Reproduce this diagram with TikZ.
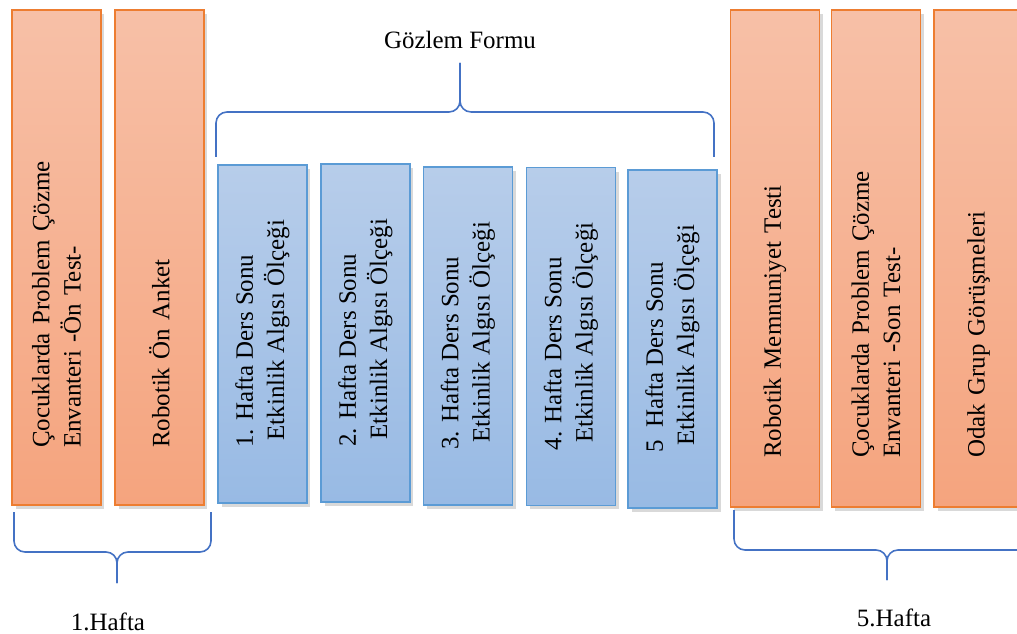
\documentclass[tikz,border=0pt]{standalone}
\usepackage{fontspec}
\setmainfont{Liberation Serif}
\usetikzlibrary{shadows}

\definecolor{orangetop}{RGB}{247,192,167}
\definecolor{orangebot}{RGB}{245,164,126}
\definecolor{orangeline}{RGB}{237,125,49}
\definecolor{bluetop}{RGB}{183,205,234}
\definecolor{bluebot}{RGB}{152,186,228}
\definecolor{blueline}{RGB}{91,155,213}
\definecolor{bracecol}{RGB}{68,114,196}

\tikzset{
	txt/.style={font=\fontsize{14.2}{17.8}\selectfont},
	testbox/.style={txt, rotate=90, draw=orangeline, line width=0.9pt, top color=orangetop, bottom color=orangebot, shading angle=0,
		drop shadow={shadow xshift=0.07cm, shadow yshift=-0.08cm, opacity=0.3}, align=left, inner ysep=0pt, minimum height=1.78cm},
	prebox/.style={testbox, text width=7.62cm, inner xsep=1.14cm},
	postbox/.style={testbox, text width=7.98cm, inner xsep=0.98cm},
	weekbox/.style={txt, rotate=90, draw=blueline, line width=0.9pt, top color=bluetop, bottom color=bluebot, shading angle=0,
		drop shadow={shadow xshift=0.07cm, shadow yshift=-0.08cm, opacity=0.3}, align=left, minimum width=6.76cm, minimum height=1.78cm},
	brace/.style={draw=bracecol, line width=0.9pt, rounded corners=0.22cm}
}

\begin{document}
\begin{tikzpicture}[x=0.02cm, y=-0.02cm]
					\useasboundingbox (0,0) rectangle (1017,634);
					\clip (0,0) rectangle (1017,634);
					\node[prebox] at (56.5,257.5)  (o1) {Çocuklarda Problem Çözme\\Envanteri -Ön Test-};
					\node[prebox] at (159.5,257.5) (o2) {Robotik Ön Anket};
					\node[weekbox] at (262.5,334)  (w1) {1. Hafta Ders Sonu\\\hspace*{0.3em}Etkinlik Algısı Ölçeği};
					\node[weekbox] at (365.5,333)  (w2) {2. Hafta Ders Sonu\\\hspace*{0.3em}Etkinlik Algısı Ölçeği};
					\node[weekbox] at (468,336)    (w3) {3. Hafta Ders Sonu\\\hspace*{0.3em}Etkinlik Algısı Ölçeği};
					\node[weekbox] at (571,336.5)  (w4) {4. Hafta Ders Sonu\\\hspace*{0.3em}Etkinlik Algısı Ölçeği};
					\node[weekbox] at (672.5,339)  (w5) {5\hspace{0.25em} Hafta Ders Sonu\\\hspace*{0.3em}Etkinlik Algısı Ölçeği};
					\node[postbox] at (775,258.5)  (s1) {Robotik Memnuniyet Testi};
					\node[postbox] at (876,258.5)  (s2) {Çocuklarda Problem Çözme\\Envanteri -Son Test-};
					\node[postbox] at (978.5,258.5) (s3) {Odak Grup Görüşmeleri};

					\coordinate (t1) at (117,583);
					\coordinate (t2) at (460,63);
					\coordinate (t3) at (887,580);
					\draw[brace] (14,512) |- (117,552) -- (t1);
					\draw[brace] (211,512) |- (117,552) -- (t1);
					\draw[brace] (216,157) |- (460,112) -- (t2);
					\draw[brace] (714,157) |- (460,112) -- (t2);
					\draw[brace] (734,510) |- (887,550) -- (t3);
					\draw[brace] (1040,510) |- (887,550) -- (t3);

					\node[txt] at (108,622) (l1) {1.Hafta};
					\node[txt] at (460,40)  (l2) {Gözlem Formu};
					\node[txt] at (894,618) (l3) {5.Hafta};
				\end{tikzpicture}
\end{document}
